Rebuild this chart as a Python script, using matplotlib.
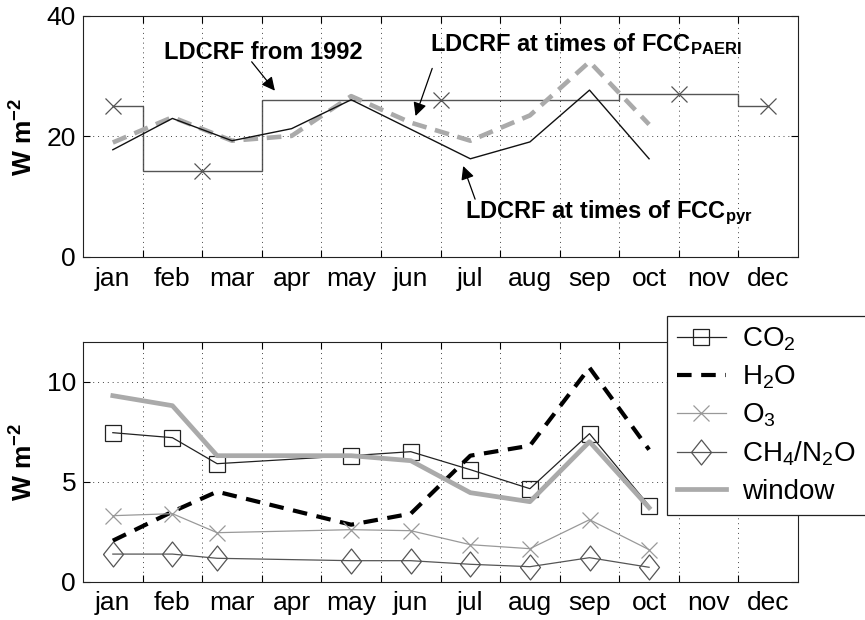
import matplotlib
matplotlib.use('Agg')
import matplotlib.pyplot as plt
import numpy as np

plt.rcParams['font.family'] = ['Liberation Sans', 'DejaVu Sans']
plt.rcParams['mathtext.fontset'] = 'custom'
plt.rcParams['mathtext.rm'] = 'Liberation Sans'
plt.rcParams['mathtext.it'] = 'Liberation Sans:italic'
plt.rcParams['mathtext.bf'] = 'Liberation Sans:bold'

months = ['jan', 'feb', 'mar', 'apr', 'may', 'jun',
          'jul', 'aug', 'sep', 'oct', 'nov', 'dec']

# top panel: LDCRF (W m-2)
season_edges = [1, 1.5, 3.5, 9.5, 11.5, 12]
season_vals = [25.1, 14.2, 26.1, 27.1, 25.1]
season_centers = [1, 2.5, 6.5, 10.5, 12]

pyr_x = [1, 2, 3, 4, 5, 7, 8, 9, 10]
pyr_vals = [17.8, 23.0, 19.3, 21.3, 26.1, 16.3, 19.1, 27.7, 16.3]

paeri_x = [1, 2, 3, 4, 5, 6, 7, 8, 9, 10]
paeri_vals = [19.0, 23.2, 19.3, 20.1, 26.7, 22.3, 19.3, 23.5, 32.4, 22.0]

# bottom panel: contributions by absorber (W m-2)
gas_x = [1, 2, 2.75, 5, 6, 7, 8, 9, 10]
co2 = [7.45, 7.2, 5.9, 6.3, 6.5, 5.6, 4.65, 7.4, 3.8]
h2o = [2.05, 3.5, 4.5, 2.85, 3.4, 6.3, 6.8, 10.7, 6.6]
o3 = [3.3, 3.4, 2.45, 2.6, 2.55, 1.85, 1.65, 3.1, 1.6]
ch4_n2o = [1.38, 1.38, 1.17, 1.05, 1.05, 0.87, 0.75, 1.2, 0.72]
window = [9.3, 8.8, 6.3, 6.3, 6.05, 4.45, 4.0, 7.0, 3.7]

TICK_FS = 19
ANN_FS = 17

fig = plt.figure(figsize=(8.65, 6.2), dpi=100)
ax1 = fig.add_axes([0.096, 0.5855, 0.8266, 0.3887])
ax2 = fig.add_axes([0.096, 0.0618, 0.8266, 0.3871])


def style_axes(ax, yticks, ylim):
    ax.set_xlim(0.5, 12.5)
    ax.set_ylim(*ylim)
    ax.set_xticks(np.arange(1.5, 12, 1.0))
    ax.set_xticklabels([])
    ax.set_xticks(np.arange(1, 13), labels=months, minor=True)
    ax.set_yticks(yticks)
    ax.tick_params(which='major', direction='in', top=True, right=True,
                   length=5, width=0.8, labelsize=TICK_FS, pad=5)
    ax.tick_params(which='minor', axis='x', length=0, labelsize=TICK_FS, pad=7)
    ax.grid(True, which='major', color='#444444', lw=0.7,
            linestyle=(0, (1, 4)))
    for s in ax.spines.values():
        s.set_linewidth(0.8)
        s.set_color('#222222')
    ax.set_ylabel(r'W m$^{\mathbf{-2}}$', fontsize=19, fontweight='bold')
    ax.yaxis.set_label_coords(-0.064, 0.5)


# ---- top panel
style_axes(ax1, [0, 20, 40], (0, 40))
ax1.stairs(season_vals, season_edges, baseline=None, color='#555555', lw=1.0)
ax1.plot(season_centers, season_vals, ls='none', marker='x', ms=11,
         mew=0.9, color='#555555')
ax1.plot(paeri_x, paeri_vals, color='#aaaaaa', lw=3.3, dashes=(3.2, 1.9))
ax1.plot(pyr_x, pyr_vals, color='#111111', lw=1.0)

arrow = dict(arrowstyle='-|>', color='k', lw=0.9, mutation_scale=20,
             shrinkA=0, shrinkB=0)
ax1.text(3.52, 33.9, 'LDCRF from 1992', fontsize=ANN_FS, fontweight='bold',
         ha='center', va='center')
ax1.annotate('', xy=(3.72, 27.6), xytext=(3.33, 32.4), arrowprops=arrow)

ax1.text(6.32, 35.4, r'LDCRF at times of FCC$_\mathbf{PAERI}$', fontsize=ANN_FS,
         fontweight='bold', ha='left', va='center')
ax1.annotate('', xy=(6.08, 23.4), xytext=(6.36, 31.3), arrowprops=arrow)

ax1.text(6.91, 7.3, r'LDCRF at times of FCC$_\mathbf{pyr}$', fontsize=ANN_FS,
         fontweight='bold', ha='left', va='center')
ax1.annotate('', xy=(6.88, 15.1), xytext=(7.08, 9.6), arrowprops=arrow)

# ---- bottom panel
style_axes(ax2, [0, 5, 10], (0, 12))
diamond = [(-0.8, 0), (0, 1), (0.8, 0), (0, -1), (-0.8, 0)]
ax2.plot(gas_x, co2, color='#222222', lw=0.9, marker='s', ms=11.5,
         mfc='none', mew=0.9, label='CO$_2$')
ax2.plot(gas_x, h2o, color='black', lw=3.0, dashes=(3.5, 2.3), label='H$_2$O')
ax2.plot(gas_x, o3, color='#999999', lw=0.9, marker='x', ms=12, mew=0.9,
         label='O$_3$')
ax2.plot(gas_x, ch4_n2o, color='#555555', lw=0.9, marker=diamond, ms=18,
         mfc='none', mew=0.9, label='CH$_4$/N$_2$O')
ax2.plot(gas_x, window, color='#aaaaaa', lw=3.4, label='window')

leg = ax2.legend(loc='upper left', bbox_to_anchor=(0.7714, 0.4903),
                 bbox_transform=fig.transFigure, fontsize=TICK_FS + 1,
                 frameon=True, fancybox=False, framealpha=1,
                 edgecolor='#222222', borderaxespad=0, borderpad=0.35,
                 handlelength=1.75, handletextpad=0.6, labelspacing=0.38)
leg.get_frame().set_linewidth(0.9)

fig.savefig('out.png', dpi=100)
